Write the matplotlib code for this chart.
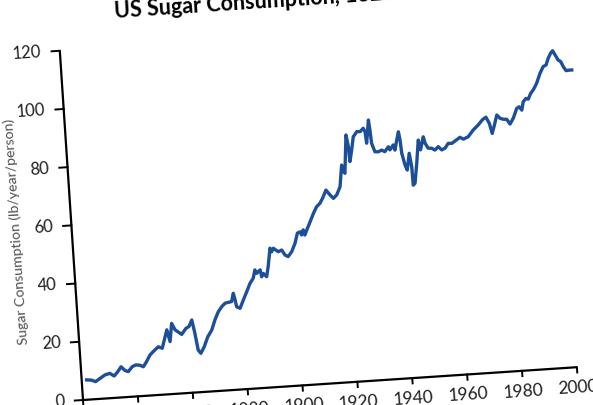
import matplotlib
matplotlib.use("Agg")
import matplotlib.pyplot as plt
import matplotlib.transforms as mtransforms

# values (year, lb/year/person)
years = [1821.8, 1823.6, 1825.0, 1826.7, 1828.6, 1830.4, 1831.9, 1833.3, 1834.6, 1836.0,
         1837.1, 1838.7, 1840.0, 1841.5, 1842.7, 1844.0, 1845.4, 1847.3, 1848.6, 1850.0,
         1852.1, 1853.0, 1854.0, 1855.1, 1857.4, 1859.1, 1860.2, 1861.4, 1862.2, 1863.0,
         1863.9, 1865.3, 1866.8, 1868.4, 1869.8, 1871.2, 1872.6, 1873.9, 1876.3, 1877.1,
         1877.6, 1878.0, 1879.2, 1880.6, 1882.0, 1883.4, 1884.7, 1885.5, 1886.1, 1886.7,
         1887.4, 1887.8, 1888.5, 1889.6, 1890.4, 1891.5, 1892.0, 1892.7, 1893.6, 1894.4,
         1895.7, 1896.8, 1897.9, 1899.3, 1900.7, 1901.8, 1902.8, 1903.3, 1904.0, 1904.5,
         1905.3, 1906.7, 1908.1, 1909.4, 1910.7, 1911.8, 1913.2, 1914.6, 1915.7, 1917.0,
         1918.4, 1919.5, 1920.0, 1920.5, 1921.8, 1922.4, 1922.6, 1923.5, 1924.4, 1925.8,
         1927.0, 1928.2, 1928.8, 1929.1, 1930.3, 1930.6, 1930.9, 1931.9, 1933.1, 1934.4,
         1935.5, 1936.9, 1937.4, 1938.7, 1939.2, 1940.1, 1940.9, 1941.3, 1941.6, 1942.5,
         1943.2, 1944.3, 1944.9, 1945.0, 1945.7, 1946.8, 1947.9, 1948.5, 1949.8, 1950.3,
         1951.3, 1952.6, 1953.7, 1955.0, 1956.2, 1957.4, 1958.7, 1960.0, 1961.8, 1963.1,
         1964.3, 1966.1, 1968.1, 1970.0, 1971.8, 1973.0, 1974.1, 1974.9, 1975.9, 1977.0,
         1978.1, 1979.2, 1980.5, 1981.6, 1982.9, 1984.4, 1985.3, 1986.2, 1986.9, 1988.0,
         1988.8, 1989.8, 1990.8, 1992.2, 1993.7, 1995.0, 1996.1, 1997.0, 1998.0, 1998.8,
         1999.6, 2000.6, 2001.5, 2002.3, 2003.2, 2004.3, 2005.3]
sugar = [6.8, 6.6, 6.0, 7.0, 8.1, 8.5, 7.5, 8.9, 10.5, 9.1,
         8.7, 10.3, 10.8, 10.6, 10.0, 11.7, 13.9, 15.5, 16.5, 15.9,
         22.1, 18.0, 24.2, 21.9, 20.2, 22.2, 22.7, 24.9, 20.3, 14.5,
         13.3, 15.5, 18.8, 21.0, 24.4, 27.1, 28.8, 29.9, 30.3, 33.1,
         30.8, 28.4, 27.8, 30.6, 33.3, 36.1, 37.8, 40.6, 39.4, 39.9,
         40.5, 38.1, 39.2, 38.0, 41.4, 47.7, 46.4, 47.6, 46.9, 46.3,
         46.8, 45.0, 44.4, 46.0, 48.8, 52.2, 52.6, 51.5, 53.2, 51.4,
         53.1, 55.8, 58.6, 60.8, 61.9, 63.6, 66.3, 64.5, 63.3, 64.4,
         67.1, 74.5, 72.8, 71.6, 84.7, 80.6, 75.5, 79.4, 83.9, 85.6,
         85.5, 86.6, 85.4, 81.4, 89.3, 85.9, 81.3, 78.3, 78.2, 78.7,
         78.1, 79.7, 78.6, 80.2, 78.4, 81.8, 84.6, 81.7, 77.2, 73.1,
         71.3, 77.0, 72.3, 66.0, 66.6, 73.4, 81.3, 77.9, 82.3, 80.1,
         78.3, 78.2, 77.5, 78.6, 77.4, 77.9, 79.5, 79.4, 80.5, 81.3,
         80.6, 81.3, 83.5, 85.1, 86.9, 87.6, 85.4, 81.9, 84.7, 88.1,
         86.9, 86.5, 86.4, 84.7, 86.6, 89.9, 90.4, 89.2, 92.0, 93.1,
         92.8, 94.7, 95.8, 98.0, 101.4, 103.6, 104.1, 106.3, 108.0, 108.8,
         107.3, 105.5, 104.9, 103.1, 101.7, 101.8, 101.8]

x_ticks = [1820, 1840, 1860, 1880, 1900, 1920, 1940, 1960, 1980, 2000]
y_ticks = [0, 20, 40, 60, 80, 100, 120]
title = "US Sugar Consumption, 1822-2005"
ylabel = "Sugar Consumption (lb/year/person)"

TILT = 3.8  # the photographed chart is turned a little counter-clockwise
FONT = ["Lato", "DejaVu Sans"]

fig = plt.figure(figsize=(5.93, 4.05), dpi=100)
ax = fig.add_axes([83 / 593, 5 / 405, 495 / 593, 350 / 405])
ax.set_xlim(1820, 2000)
ax.set_ylim(0, 120)
ax.axis("off")

ox, oy = ax.transData.transform((1820, 0))
tr = ax.transData + mtransforms.Affine2D().rotate_deg_around(ox, oy, TILT)

# axis lines
ax.plot([1820, 2000], [0, 0], color="black", lw=1.6, transform=tr, clip_on=False,
        solid_capstyle="butt")
ax.plot([1820, 1820], [0, 120], color="black", lw=1.6, transform=tr, clip_on=False,
        solid_capstyle="butt")

for xt in x_ticks:
    ax.plot([xt, xt], [0, -1.8], color="black", lw=1.4, transform=tr, clip_on=False)
    ax.text(xt, -4.3, str(xt), transform=tr, rotation=TILT, rotation_mode="anchor",
            ha="center", va="top", fontsize=12.5, color="#1e1e1e", family=FONT)

for yt in y_ticks:
    ax.plot([1820, 1817.0], [yt, yt], color="black", lw=1.4, transform=tr, clip_on=False)
    ax.text(1813.3, yt, str(yt), transform=tr, rotation=TILT, rotation_mode="anchor",
            ha="right", va="center", fontsize=12, color="#1e1e1e", family=FONT)

ax.text(1799.7, 59.0, ylabel, transform=tr, rotation=90 + TILT, rotation_mode="anchor",
        ha="center", va="center", fontsize=10.2, color="#505050", family=FONT)

ax.text(1840.8, 130.0, title, transform=tr, rotation=TILT, rotation_mode="anchor",
        ha="left", va="baseline", fontsize=15.5, fontweight="bold", color="black",
        family=FONT)

ax.plot(years, sugar, color="#1d4f99", lw=2.4, transform=tr, clip_on=False,
        solid_joinstyle="round")

fig.savefig("out.png", dpi=100, facecolor="white")
